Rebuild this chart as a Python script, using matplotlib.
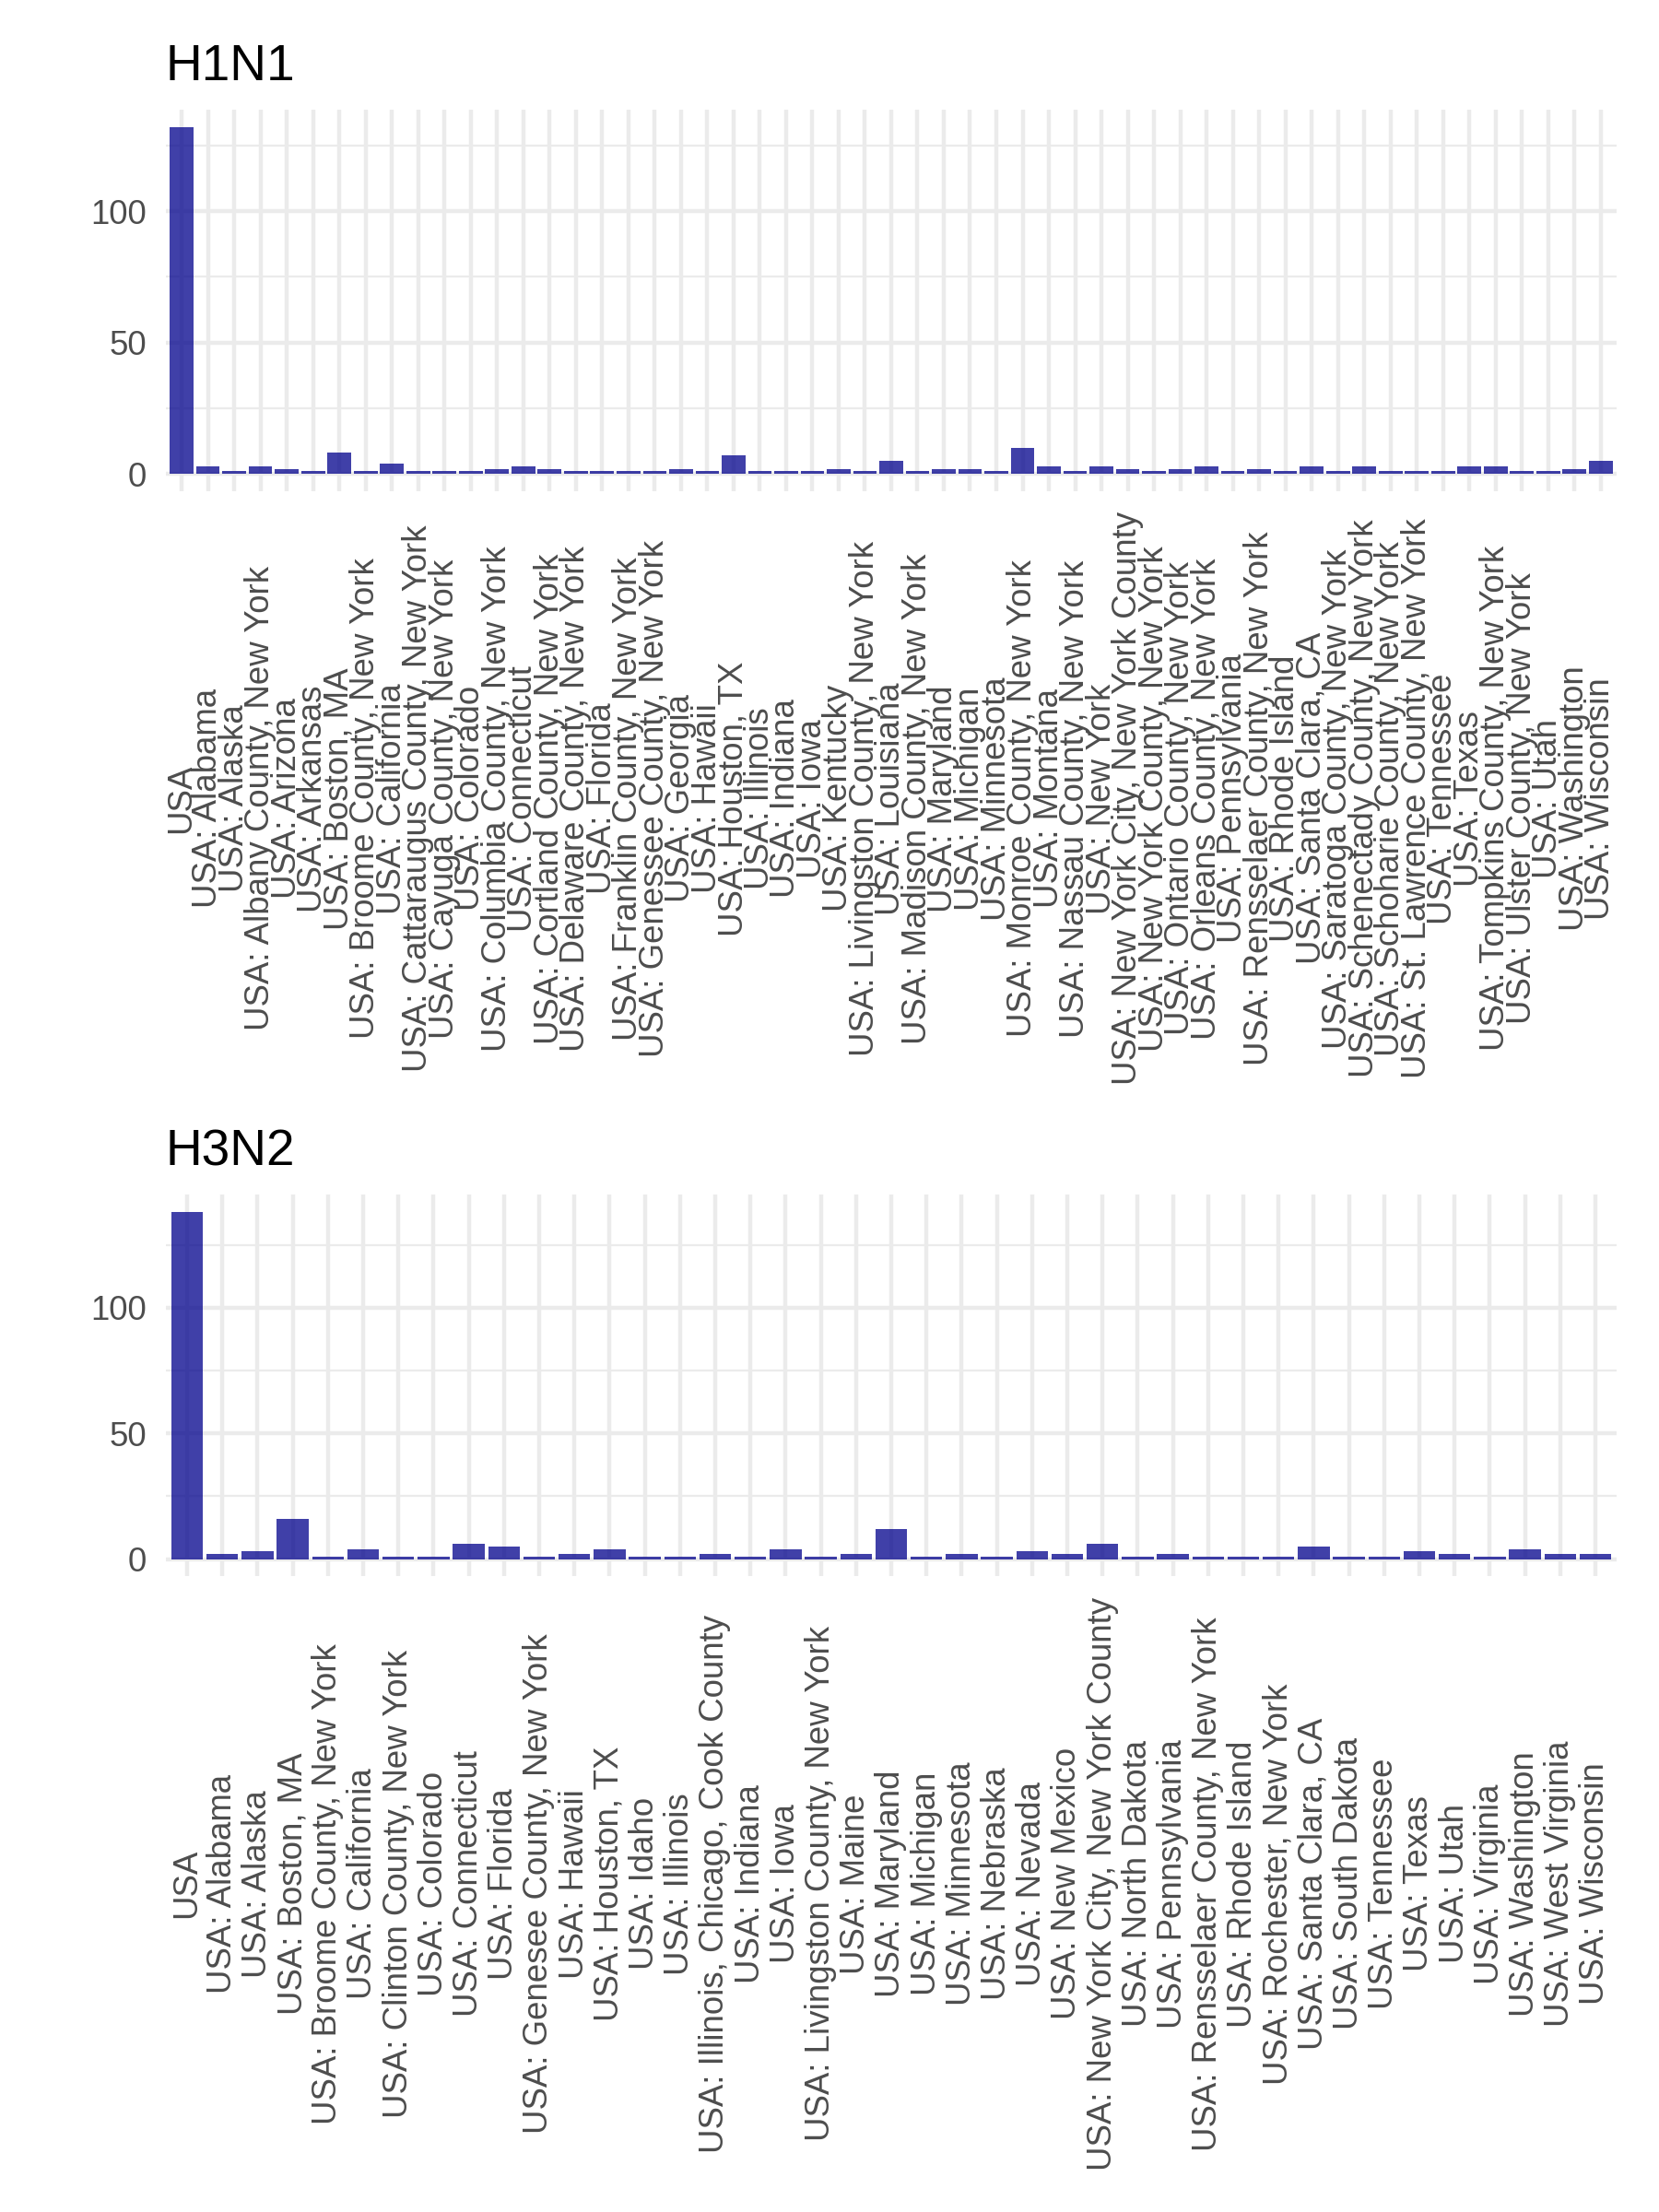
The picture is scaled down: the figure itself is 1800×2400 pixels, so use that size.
import matplotlib
matplotlib.use('Agg')
import matplotlib.pyplot as plt
from matplotlib.ticker import MultipleLocator

plt.rcParams['font.family'] = ['Liberation Sans', 'DejaVu Sans']

h1n1_locations = [
    'USA', 'USA: Alabama', 'USA: Alaska', 'USA: Albany County, New York', 'USA: Arizona',
    'USA: Arkansas', 'USA: Boston, MA', 'USA: Broome County, New York', 'USA: California',
    'USA: Cattaraugus County, New York', 'USA: Cayuga County, New York', 'USA: Colorado',
    'USA: Columbia County, New York', 'USA: Connecticut', 'USA: Cortland County, New York',
    'USA: Delaware County, New York', 'USA: Florida', 'USA: Franklin County, New York',
    'USA: Genessee County, New York', 'USA: Georgia', 'USA: Hawaii', 'USA: Houston, TX',
    'USA: Illinois', 'USA: Indiana', 'USA: Iowa', 'USA: Kentucky',
    'USA: Livingston County, New York', 'USA: Louisiana', 'USA: Madison County, New York',
    'USA: Maryland', 'USA: Michigan', 'USA: Minnesota', 'USA: Monroe County, New York',
    'USA: Montana', 'USA: Nassau County, New York', 'USA: New York',
    'USA: New York City, New York County', 'USA: New York County, New York',
    'USA: Ontario County, New York', 'USA: Orleans County, New York', 'USA: Pennsylvania',
    'USA: Rensselaer County, New York', 'USA: Rhode Island', 'USA: Santa Clara, CA',
    'USA: Saratoga County, New York', 'USA: Schenectady County, New York',
    'USA: Schoharie County, New York', 'USA: St. Lawrence County, New York', 'USA: Tennessee',
    'USA: Texas', 'USA: Tompkins County, New York', 'USA: Ulster County, New York', 'USA: Utah',
    'USA: Washington', 'USA: Wisconsin',
]
h1n1_counts = [132, 3, 1, 3, 2, 1, 8, 1, 4, 1, 1, 1, 2, 3, 2, 1, 1, 1, 1, 2, 1, 7, 1, 1, 1, 2, 1, 5, 1,
               2, 2, 1, 10, 3, 1, 3, 2, 1, 2, 3, 1, 2, 1, 3, 1, 3, 1, 1, 1, 3, 3, 1, 1, 2, 5]

h3n2_locations = [
    'USA', 'USA: Alabama', 'USA: Alaska', 'USA: Boston, MA', 'USA: Broome County, New York',
    'USA: California', 'USA: Clinton County, New York', 'USA: Colorado', 'USA: Connecticut',
    'USA: Florida', 'USA: Genesee County, New York', 'USA: Hawaii', 'USA: Houston, TX',
    'USA: Idaho', 'USA: Illinois', 'USA: Illinois, Chicago, Cook County', 'USA: Indiana',
    'USA: Iowa', 'USA: Livingston County, New York', 'USA: Maine', 'USA: Maryland',
    'USA: Michigan', 'USA: Minnesota', 'USA: Nebraska', 'USA: Nevada', 'USA: New Mexico',
    'USA: New York City, New York County', 'USA: North Dakota', 'USA: Pennsylvania',
    'USA: Rensselaer County, New York', 'USA: Rhode Island', 'USA: Rochester, New York',
    'USA: Santa Clara, CA', 'USA: South Dakota', 'USA: Tennessee', 'USA: Texas', 'USA: Utah',
    'USA: Virginia', 'USA: Washington', 'USA: West Virginia', 'USA: Wisconsin',
]
h3n2_counts = [138, 2, 3, 16, 1, 4, 1, 1, 6, 5, 1, 2, 4, 1, 1, 2, 1, 4, 1, 2, 12,
               1, 2, 1, 3, 2, 6, 1, 2, 1, 1, 1, 5, 1, 1, 3, 2, 1, 4, 2, 2]

GRID = '#EBEBEB'
TEXT = '#4D4D4D'


def draw_panel(ax, title, labels, counts):
    x = range(len(labels))
    ax.bar(x, counts, width=0.9, color='darkblue', alpha=0.75, zorder=3)
    ax.set_xlim(-0.6, len(labels) - 0.4)
    top = max(counts)
    ax.set_ylim(-0.05 * top, 1.05 * top)
    ax.set_xticks(list(x))
    ax.set_xticklabels(labels, rotation=90, fontsize=8.8, color=TEXT)
    for lab in ax.get_xticklabels():
        lab.set_verticalalignment('center')
        lab.set_horizontalalignment('center')
    ax.yaxis.set_major_locator(MultipleLocator(50))
    ax.yaxis.set_minor_locator(MultipleLocator(25))
    ax.tick_params(axis='x', length=0, pad=80)
    ax.tick_params(axis='y', which='both', length=0, pad=5, labelsize=8.8, labelcolor=TEXT)
    ax.grid(True, which='major', color=GRID, linewidth=1.07, zorder=0)
    ax.grid(True, which='minor', axis='y', color=GRID, linewidth=0.53, zorder=0)
    for s in ax.spines.values():
        s.set_visible(False)
    ax.set_title(title, loc='left', fontsize=13.2, pad=7.7, color='black')


fig = plt.figure(figsize=(6, 8), dpi=300)
ax1 = fig.add_axes([0.1, 0.7779, 0.8744, 0.1725])
ax2 = fig.add_axes([0.1, 0.2873, 0.8744, 0.1725])

draw_panel(ax1, 'H1N1', h1n1_locations, h1n1_counts)
draw_panel(ax2, 'H3N2', h3n2_locations, h3n2_counts)

fig.savefig('out.png', dpi=300, facecolor='white')
